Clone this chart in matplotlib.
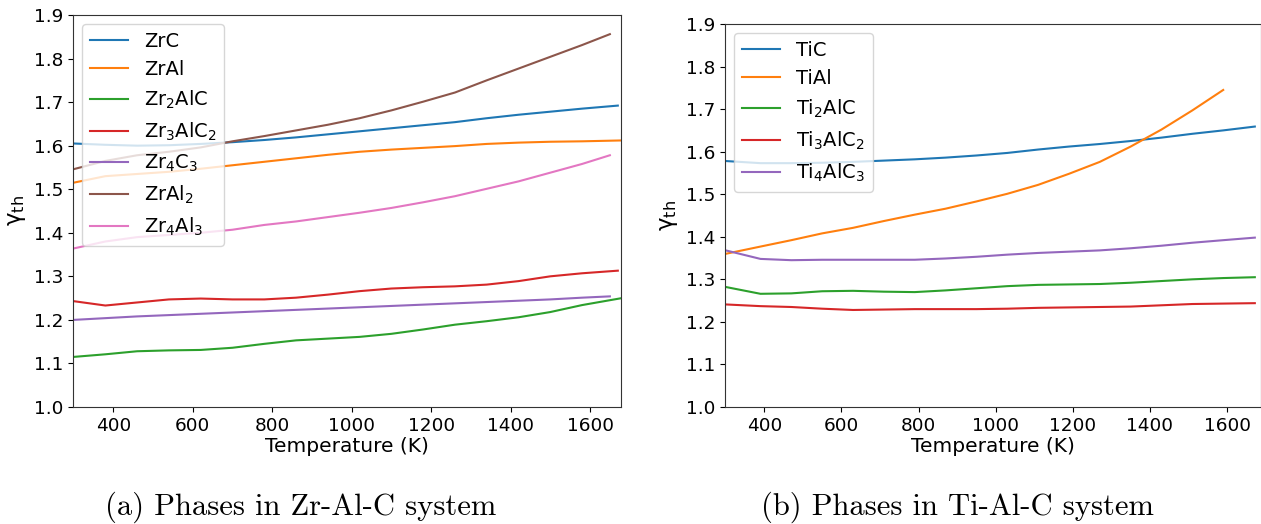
import matplotlib
matplotlib.use("Agg")
import matplotlib.pyplot as plt

# ---------------- data: Zr-Al-C system ----------------
T_zr = [300, 380, 460, 540, 620, 700, 780, 860, 940, 1020, 1100, 1180, 1260, 1340, 1420, 1500, 1580]
T_zr_zrc_end = 1670
T_zr_long_end = 1680
T_zr_short_end = 1650

ZrC = [1.605, 1.602, 1.600, 1.601, 1.604, 1.608, 1.613, 1.619, 1.626, 1.633, 1.640, 1.647, 1.654, 1.663, 1.671, 1.678, 1.685, 1.692]
ZrAl = [1.515, 1.530, 1.535, 1.540, 1.547, 1.555, 1.563, 1.571, 1.579, 1.586, 1.591, 1.595, 1.599, 1.604, 1.607, 1.609, 1.610, 1.612]
Zr2AlC = [1.115, 1.121, 1.128, 1.130, 1.131, 1.136, 1.145, 1.153, 1.157, 1.161, 1.168, 1.178, 1.189, 1.197, 1.206, 1.218, 1.234, 1.250]
Zr3AlC2 = [1.243, 1.233, 1.240, 1.247, 1.249, 1.247, 1.247, 1.251, 1.258, 1.266, 1.272, 1.275, 1.277, 1.281, 1.289, 1.300, 1.307, 1.313]
Zr4C3 = [1.200, 1.204, 1.208, 1.211, 1.214, 1.217, 1.220, 1.223, 1.226, 1.229, 1.232, 1.235, 1.238, 1.241, 1.244, 1.247, 1.251, 1.254]
ZrAl2 = [1.546, 1.565, 1.578, 1.586, 1.596, 1.610, 1.622, 1.635, 1.648, 1.663, 1.681, 1.701, 1.722, 1.750, 1.777, 1.804, 1.831, 1.856]
Zr4Al3 = [1.364, 1.380, 1.390, 1.395, 1.400, 1.407, 1.418, 1.426, 1.436, 1.446, 1.457, 1.470, 1.484, 1.501, 1.518, 1.538, 1.558, 1.578]

zr_labels = ["ZrC", "ZrAl", r"Zr$_2$AlC", r"Zr$_3$AlC$_2$", r"Zr$_4$C$_3$", r"ZrAl$_2$", r"Zr$_4$Al$_3$"]
zr_series = [ZrC, ZrAl, Zr2AlC, Zr3AlC2, Zr4C3, ZrAl2, Zr4Al3]
zr_ends = [T_zr_zrc_end, T_zr_long_end, T_zr_long_end, T_zr_zrc_end, T_zr_short_end, T_zr_short_end, T_zr_short_end]

# ---------------- data: Ti-Al-C system ----------------
T_ti = [300, 390, 470, 550, 630, 710, 790, 870, 950, 1030, 1110, 1190, 1270, 1350, 1430, 1510, 1590, 1672]

TiC = [1.578, 1.573, 1.573, 1.574, 1.576, 1.579, 1.582, 1.586, 1.591, 1.597, 1.605, 1.612, 1.618, 1.625, 1.633, 1.642, 1.650, 1.659]
TiAl = [1.360, 1.377, 1.392, 1.408, 1.421, 1.437, 1.452, 1.466, 1.483, 1.501, 1.522, 1.548, 1.576, 1.612, 1.652, 1.697, 1.745]
Ti2AlC = [1.282, 1.266, 1.267, 1.272, 1.273, 1.271, 1.270, 1.274, 1.279, 1.284, 1.287, 1.288, 1.289, 1.292, 1.296, 1.300, 1.303, 1.305]
Ti3AlC2 = [1.241, 1.237, 1.235, 1.231, 1.228, 1.229, 1.230, 1.230, 1.230, 1.231, 1.233, 1.234, 1.235, 1.236, 1.239, 1.242, 1.243, 1.244]
Ti4AlC3 = [1.368, 1.348, 1.345, 1.346, 1.346, 1.346, 1.346, 1.349, 1.353, 1.358, 1.362, 1.365, 1.368, 1.373, 1.379, 1.386, 1.392, 1.398]

ti_labels = ["TiC", "TiAl", r"Ti$_2$AlC", r"Ti$_3$AlC$_2$", r"Ti$_4$AlC$_3$"]
ti_series = [TiC, TiAl, Ti2AlC, Ti3AlC2, Ti4AlC3]

captions = ["(a) Phases in Zr-Al-C system", "(b) Phases in Ti-Al-C system"]
xticks = [400, 600, 800, 1000, 1200, 1400, 1600]
yticks = [1.0, 1.1, 1.2, 1.3, 1.4, 1.5, 1.6, 1.7, 1.8, 1.9]

# ---------------- figure ----------------
W, H = 1261, 524
fig = plt.figure(figsize=(W / 100, H / 100), dpi=100)

def px_axes(x0, y0, x1, y1):
    return fig.add_axes([x0 / W, 1 - y1 / H, (x1 - x0) / W, (y1 - y0) / H])

ax1 = px_axes(73, 15, 621, 407)
ax2 = px_axes(725, 24, 1261, 407)

tick_fs = 13.3
label_fs = 14.5
legend_fs = 14

for lab, ys, end in zip(zr_labels, zr_series, zr_ends):
    ax1.plot(T_zr + [end], ys, lw=1.5, label=lab)
ax1.set_xlim(298.5, 1678)

for lab, ys in zip(ti_labels, ti_series):
    ax2.plot(T_ti[:len(ys)], ys, lw=1.5, label=lab)
ax2.set_xlim(298, 1688)

for ax in (ax1, ax2):
    ax.set_ylim(1.0, 1.9)
    ax.set_xticks(xticks)
    ax.set_yticks(yticks)
    ax.tick_params(labelsize=tick_fs)
    ax.set_xlabel("Temperature (K)", fontsize=label_fs, labelpad=2)
    ax.set_ylabel(r"γ$_\mathregular{th}$", fontsize=label_fs + 2, labelpad=4)
    ax.legend(loc="upper left", fontsize=legend_fs, handlelength=2.0,
              borderaxespad=0.45)
    for s in ax.spines.values():
        s.set_color("#333333")

fig.text(301 / W, 1 - 507 / H, captions[0], family="cmr10", fontsize=22,
         ha="center", va="center")
fig.text(957 / W, 1 - 507 / H, captions[1], family="cmr10", fontsize=22,
         ha="center", va="center")

fig.savefig("out.png", dpi=100)
